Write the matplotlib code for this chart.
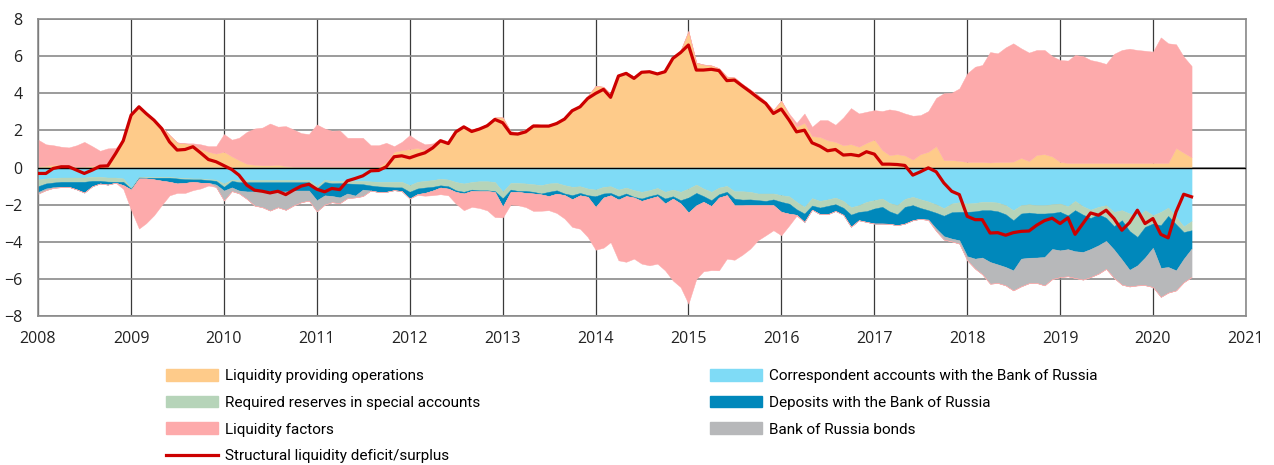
import numpy as np
import pandas as pd
import matplotlib
matplotlib.use("Agg")
import matplotlib.pyplot as plt
import matplotlib.dates as mdates
from matplotlib.patches import Patch
from matplotlib.lines import Line2D
from datetime import datetime

# monthly data, Jan 2008 - Jun 2020, trillions of roubles
dates = pd.date_range("2008-01-01", periods=150, freq="MS")

# positive side
providing_ops = [
    0.05, 0.1, 0.15, 0.15, 0.1, 0.05, 0.05, 0.1, 0.1, 0.1, 0.8, 1.45,   # 2008
    2.85, 3.3, 2.95, 2.6, 2.2, 1.75, 1.35, 1.3, 1.25, 1.0, 0.85, 0.75,  # 2009
    0.85, 0.6, 0.4, 0.2, 0.15, 0.12, 0.12, 0.15, 0.08, 0.05, 0.05, 0.05,  # 2010
    0.05, 0.05, 0.05, 0.05, 0.05, 0.05, 0.05, 0.05, 0.05, 0.3, 0.85, 0.93,  # 2011
    1.0, 1.05, 0.95, 1.15, 1.5, 1.4, 2.0, 2.25, 2.05, 2.15, 2.35, 2.7,  # 2012
    2.7, 1.95, 1.9, 2.05, 2.35, 2.3, 2.3, 2.45, 2.7, 3.1, 3.35, 3.85,  # 2013
    4.4, 4.35, 3.95, 5.0, 5.15, 4.9, 5.2, 5.2, 5.1, 5.25, 5.95, 6.3,  # 2014
    7.35, 5.65, 5.55, 5.5, 5.35, 4.9, 4.85, 4.5, 4.2, 3.9, 3.55, 3.1,  # 2015
    3.6, 2.8, 2.2, 2.41, 1.69, 1.65, 1.47, 1.38, 1.2, 1.26, 1.12, 1.33,  # 2016
    1.51, 0.94, 0.67, 0.72, 0.65, 0.43, 0.72, 0.85, 1.15, 0.4, 0.4, 0.36,  # 2017
    0.3, 0.3, 0.3, 0.27, 0.3, 0.3, 0.32, 0.52, 0.35, 0.68, 0.72, 0.6,  # 2018
    0.3, 0.25, 0.25, 0.25, 0.25, 0.25, 0.25, 0.25, 0.25, 0.25, 0.25, 0.25,  # 2019
    0.25, 0.25, 0.25, 1.05, 0.8, 0.55,  # 2020
]
factors_pos = [
    1.45, 1.15, 1.05, 0.97, 0.98, 1.15, 1.33, 1.05, 0.8, 0.93, 0.25, 0,
    0, 0, 0, 0, 0, 0, 0, 0, 0.05, 0.25, 0.3, 0.4,
    0.95, 0.9, 1.2, 1.72, 1.95, 2.03, 2.25, 2.05, 2.15, 2.0, 1.8, 1.75,
    2.27, 2.05, 1.93, 1.95, 1.55, 1.55, 1.55, 1.15, 1.15, 1.03, 0.3, 0.45,
    0.74, 0.4, 0.3, 0.15, 0.05, 0, 0, 0, 0, 0, 0, 0,
    0, 0, 0, 0, 0, 0, 0, 0, 0, 0, 0, 0,
    0, 0, 0, 0, 0, 0, 0, 0, 0, 0, 0, 0,
    0, 0, 0, 0, 0, 0, 0, 0, 0, 0, 0, 0,
    0, 0.1, 0.2, 0.5, 0.5, 0.9, 1.08, 0.92, 1.5, 1.94, 1.79, 1.67,
    1.58, 2.1, 2.46, 2.34, 2.26, 2.36, 2.1, 2.19, 2.6, 3.6, 3.63, 3.9,
    4.77, 5.13, 5.22, 5.95, 5.85, 6.17, 6.37, 5.9, 5.84, 5.65, 5.61, 5.4,
    5.49, 5.51, 5.81, 5.75, 5.54, 5.45, 5.33, 5.87, 6.08, 6.15, 6.08, 6.04,
    5.99, 6.76, 6.44, 5.59, 5.17, 4.92,
]

# negative side (absolute amounts)
corr_accounts = [
    0.65, 0.59, 0.56, 0.54, 0.54, 0.54, 0.54, 0.5, 0.5, 0.54, 0.54, 0.59,
    1.1, 0.5, 0.5, 0.5, 0.5, 0.5, 0.54, 0.56, 0.59, 0.59, 0.63, 0.65,
    0.86, 0.65, 0.67, 0.67, 0.67, 0.67, 0.67, 0.67, 0.67, 0.67, 0.67, 0.67,
    1.0, 0.65, 0.72, 0.72, 0.72, 0.72, 0.72, 0.75, 0.77, 0.77, 0.77, 0.77,
    0.95, 0.77, 0.72, 0.68, 0.6, 0.65, 0.78, 0.86, 0.78, 0.74, 0.74, 0.78,
    1.3, 0.83, 0.83, 0.86, 0.9, 0.95, 0.86, 0.83, 0.95, 1.04, 1.01, 1.13,
    1.19, 1.04, 1.01, 1.19, 1.08, 1.22, 1.31, 1.22, 1.1, 1.31, 1.19, 1.31,
    1.13, 0.92, 1.13, 1.31, 1.08, 0.99, 1.28, 1.28, 1.31, 1.4, 1.4, 1.4,
    1.49, 1.55, 1.85, 2.12, 1.65, 1.8, 1.72, 1.62, 1.8, 2.14, 2.03, 1.85,
    1.76, 1.67, 1.91, 2.03, 1.69, 1.58, 1.71, 1.83, 1.99, 2.19, 1.94, 1.87,
    1.94, 1.91, 1.85, 1.85, 1.89, 2.03, 2.3, 2.03, 1.98, 2.03, 2.03, 1.98,
    1.94, 2.09, 1.8, 2.09, 2.27, 2.12, 2.03, 2.39, 2.3, 2.48, 2.66, 2.3,
    2.57, 2.39, 2.16, 2.66, 3.17, 2.88,
]
req_reserves = [
    0.36, 0.27, 0.25, 0.23, 0.23, 0.23, 0.23, 0.22, 0.22, 0.22, 0.23, 0.18,
    0.04, 0.04, 0.05, 0.05, 0.05, 0.05, 0.05, 0.07, 0.05, 0.05, 0.05, 0.07,
    0.18, 0.07, 0.12, 0.12, 0.12, 0.12, 0.12, 0.12, 0.12, 0.12, 0.12, 0.12,
    0.13, 0.13, 0.13, 0.12, 0.14, 0.16, 0.18, 0.22, 0.25, 0.27, 0.3, 0.3,
    0.36, 0.36, 0.36, 0.36, 0.36, 0.36, 0.45, 0.45, 0.41, 0.49, 0.49, 0.49,
    0.36, 0.36, 0.43, 0.4, 0.41, 0.45, 0.45, 0.4, 0.45, 0.45, 0.36, 0.36,
    0.36, 0.36, 0.36, 0.36, 0.32, 0.36, 0.36, 0.32, 0.34, 0.36, 0.36, 0.45,
    0.49, 0.45, 0.41, 0.45, 0.36, 0.32, 0.4, 0.45, 0.41, 0.36, 0.4, 0.32,
    0.36, 0.4, 0.4, 0.36, 0.4, 0.36, 0.35, 0.36, 0.37, 0.4, 0.36, 0.5,
    0.45, 0.45, 0.45, 0.49, 0.43, 0.45, 0.47, 0.47, 0.45, 0.41, 0.47, 0.52,
    0.45, 0.45, 0.45, 0.45, 0.47, 0.49, 0.54, 0.45, 0.45, 0.45, 0.45, 0.47,
    0.45, 0.49, 0.5, 0.45, 0.45, 0.4, 0.68, 0.77, 0.54, 0.94, 1.08, 0.9,
    0.45, 0.72, 0.45, 0.4, 0.31, 0.5,
]
deposits = [
    0.31, 0.27, 0.25, 0.27, 0.27, 0.41, 0.58, 0.29, 0.14, 0.16, 0.05, 0.18,
    0.05, 0.05, 0.04, 0.09, 0.16, 0.22, 0.27, 0.2, 0.13, 0.18, 0.14, 0.2,
    0.2, 0.35, 0.45, 0.5, 0.5, 0.5, 0.5, 0.5, 0.5, 0.45, 0.45, 0.45,
    0.63, 0.72, 0.68, 0.77, 0.54, 0.63, 0.29, 0.27, 0.3, 0.27, 0.15, 0.2,
    0.36, 0.3, 0.29, 0.2, 0.12, 0.13, 0.09, 0.09, 0.07, 0.05, 0.04, 0.05,
    0.45, 0.13, 0.05, 0.11, 0.09, 0.05, 0.23, 0.18, 0.09, 0.22, 0.13, 0.09,
    0.58, 0.22, 0.13, 0.18, 0.14, 0.04, 0.13, 0.13, 0.11, 0.27, 0.13, 0.18,
    0.81, 0.67, 0.31, 0.32, 0.18, 0.18, 0.36, 0.31, 0.31, 0.27, 0.23, 0.31,
    0.54, 0.54, 0.3, 0.45, 0.22, 0.35, 0.45, 0.36, 0.38, 0.65, 0.45, 0.58,
    0.81, 0.9, 0.67, 0.59, 0.9, 0.81, 0.58, 0.5, 0.85, 1.1, 1.42, 1.53,
    2.39, 2.55, 2.55, 2.79, 2.86, 2.84, 2.7, 2.43, 2.43, 2.37, 2.34, 1.94,
    2.07, 1.82, 2.21, 2.01, 1.67, 1.67, 1.24, 1.26, 2.12, 2.09, 1.53, 1.65,
    1.3, 2.3, 2.75, 2.48, 1.44, 0.99,
]
cbr_bonds = [
    0.09, 0.09, 0.04, 0.02, 0, 0, 0, 0, 0, 0, 0, 0,
    0, 0, 0, 0, 0, 0, 0, 0, 0, 0, 0, 0.13,
    0.54, 0.2, 0.15, 0.4, 0.76, 0.85, 1.03, 0.85, 0.99, 0.81, 0.63, 0.54,
    0.6, 0.5, 0.34, 0.31, 0.25, 0.1, 0.35, 0, 0, 0, 0, 0,
    0, 0, 0, 0, 0, 0, 0, 0, 0, 0, 0, 0,
    0, 0, 0, 0, 0, 0, 0, 0, 0, 0, 0, 0,
    0, 0, 0, 0, 0, 0, 0, 0, 0, 0, 0, 0,
    0, 0, 0, 0, 0, 0, 0, 0, 0, 0, 0, 0,
    0, 0, 0, 0, 0, 0, 0, 0, 0, 0, 0, 0,
    0, 0, 0, 0, 0, 0, 0, 0.04, 0.13, 0.18, 0.15, 0.18,
    0.22, 0.54, 0.9, 1.17, 1.0, 0.99, 1.08, 1.49, 1.37, 1.37, 1.53, 1.62,
    1.44, 1.46, 1.44, 1.49, 1.51, 1.53, 1.51, 1.53, 1.35, 0.9, 1.08, 1.49,
    2.12, 1.56, 1.38, 1.08, 1.26, 1.53,
]
factors_neg = [
    0, 0, 0, 0, 0, 0, 0, 0, 0, 0, 0, 0.2,
    1.1, 2.7, 2.41, 1.93, 1.32, 0.73, 0.51, 0.54, 0.45, 0.31, 0.15, 0,
    0, 0, 0, 0, 0, 0, 0, 0, 0, 0, 0, 0,
    0, 0, 0, 0, 0, 0, 0, 0, 0, 0, 0, 0,
    0, 0.05, 0.15, 0.25, 0.36, 0.36, 0.63, 0.9, 0.86, 0.9, 1.04, 1.35,
    0.58, 0.67, 0.72, 0.76, 0.94, 0.88, 0.76, 1.04, 1.26, 1.49, 1.8, 2.16,
    2.3, 2.7, 2.52, 3.27, 3.54, 3.29, 3.38, 3.6, 3.63, 3.6, 4.41, 4.5,
    4.91, 3.96, 3.74, 3.45, 3.92, 3.42, 2.93, 2.66, 2.34, 1.89, 1.62, 1.35,
    1.26, 0.63, 0.05, 0, 0, 0, 0, 0, 0, 0, 0, 0,
    0, 0, 0, 0, 0, 0, 0, 0, 0, 0, 0, 0,
    0, 0, 0, 0, 0, 0, 0, 0, 0, 0, 0, 0,
    0, 0, 0, 0, 0, 0, 0, 0, 0, 0, 0, 0,
    0, 0, 0, 0, 0, 0,
]

structural = [
    -0.32, -0.32, -0.05, 0.04, 0.04, -0.14, -0.32, -0.14, 0.07, 0.09, 0.75, 1.44,
    2.82, 3.27, 2.91, 2.55, 2.1, 1.38, 0.94, 0.97, 1.12, 0.79, 0.43, 0.31,
    0.1, -0.11, -0.41, -0.95, -1.22, -1.28, -1.37, -1.28, -1.46, -1.22, -1.0, -0.9,
    -1.17, -1.31, -1.13, -1.19, -0.72, -0.59, -0.45, -0.18, -0.16, 0.04, 0.58, 0.63,
    0.52, 0.67, 0.79, 1.06, 1.44, 1.29, 1.92, 2.19, 1.94, 2.07, 2.25, 2.59,
    2.41, 1.83, 1.8, 1.92, 2.23, 2.23, 2.23, 2.37, 2.61, 3.06, 3.27, 3.72,
    3.99, 4.21, 3.78, 4.93, 5.07, 4.8, 5.13, 5.16, 5.04, 5.16, 5.88, 6.19,
    6.6, 5.25, 5.25, 5.29, 5.22, 4.68, 4.71, 4.39, 4.08, 3.76, 3.45, 2.91,
    3.15, 2.55, 1.92, 2.01, 1.33, 1.15, 0.9, 0.97, 0.67, 0.7, 0.63, 0.85,
    0.72, 0.18, 0.18, 0.16, 0.11, -0.41, -0.23, -0.02, -0.23, -0.83, -1.28, -1.46,
    -2.63, -2.81, -2.81, -3.53, -3.51, -3.65, -3.51, -3.44, -3.42, -3.11, -2.86, -2.73,
    -3.02, -2.71, -3.6, -3.02, -2.45, -2.57, -2.3, -2.75, -3.38, -2.97, -2.3, -3.02,
    -2.75, -3.6, -3.79, -2.39, -1.44, -1.58,
]

labels = ["Liquidity providing operations", "Required reserves in special accounts",
          "Liquidity factors", "Structural liquidity deficit/surplus",
          "Correspondent accounts with the Bank of Russia",
          "Deposits with the Bank of Russia", "Bank of Russia bonds"]

c_orange = "#FECB8A"
c_pink = "#FDAAAB"
c_light = "#7FDBF6"
c_green = "#B6D4B9"
c_dark = "#0088BB"
c_gray = "#B7B8BA"
c_red = "#CC0000"

fig = plt.figure(figsize=(12.74, 4.65), dpi=100)
ax = fig.add_axes([38 / 1274, 1 - 316 / 465, (1246 - 38) / 1274, (316 - 19) / 465])

x = dates
# positive stack
base = np.zeros(len(x))
for vals, col in [(providing_ops, c_orange), (factors_pos, c_pink)]:
    top = base + np.array(vals)
    ax.fill_between(x, base, top, color=col, lw=0.3, ec=col, zorder=2)
    base = top
# negative stack
base = np.zeros(len(x))
for vals, col in [(corr_accounts, c_light), (req_reserves, c_green), (deposits, c_dark),
                  (cbr_bonds, c_gray), (factors_neg, c_pink)]:
    bot = base - np.array(vals)
    ax.fill_between(x, base, bot, color=col, lw=0.3, ec=col, zorder=2)
    base = bot

ax.axhline(0, color="black", lw=1, zorder=3)
ax.plot(x, structural, color=c_red, lw=2.3, zorder=4)

ax.set_xlim(datetime(2008, 1, 1), datetime(2021, 1, 1))
ax.set_ylim(-8, 8)
ax.set_yticks(range(-8, 9, 2))
ax.xaxis.set_major_locator(mdates.YearLocator())
ax.xaxis.set_major_formatter(mdates.DateFormatter("%Y"))
ax.grid(axis="y", color="#8a8a8a", lw=1.2, zorder=0)
ax.grid(axis="x", color="#3a3a3a", lw=0.9, zorder=0)
ax.set_axisbelow(True)
for s in ax.spines.values():
    s.set_color("#8a8a8a")
    s.set_linewidth(1.2)
ax.tick_params(length=0, labelsize=11.5, labelcolor="#222222", pad=11)
for t in ax.get_xticklabels() + ax.get_yticklabels():
    t.set_family("Open Sans")

leg_font = {"family": ["Liberation Sans Narrow", "Roboto"], "size": 11}
h1 = [Patch(color=c_orange), Patch(color=c_green), Patch(color=c_pink),
      Line2D([], [], color=c_red, lw=2.3)]
h2 = [Patch(color=c_light), Patch(color=c_dark), Patch(color=c_gray)]
kw = dict(loc="upper left", frameon=False, borderpad=0, borderaxespad=0,
          handlelength=3.4, handleheight=0.8, handletextpad=0.45,
          labelspacing=0.82, prop=leg_font)
fig.legend(h1, labels[:4], bbox_to_anchor=(166 / 1274, 1 - 369 / 465), **kw)
fig.legend(h2, labels[4:], bbox_to_anchor=(710 / 1274, 1 - 369 / 465), **kw)

fig.savefig("out.png", dpi=100)
